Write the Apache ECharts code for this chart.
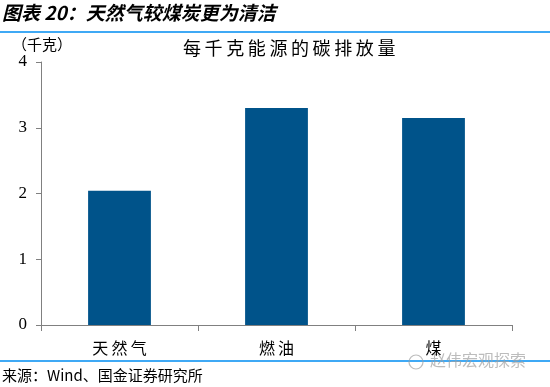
<!DOCTYPE html>
<html><head><meta charset="utf-8">
<script src="https://cdn.jsdelivr.net/npm/echarts@6/dist/echarts.min.js"></script>
<style>html,body{margin:0;padding:0;background:#fff}#c{width:550px;height:387px}</style>
</head><body><div id="c"></div>
<script>
const categories = ['天然气', '燃油', '煤'];
const values = [2.04, 3.30, 3.15];
const yTicks = [0, 1, 2, 3, 4];
const figTitle = '图表 20：天然气较煤炭更为清洁';
const chartTitle = '每千克能源的碳排放量';
const unitLabel = '（千克）';
const sourceText = '来源：Wind、国金证券研究所';
const watermark = '赵伟宏观探索';

const spaced = s => s.split('').join('\u2009');
const chart = echarts.init(document.getElementById('c'));
chart.setOption({
  animation: false,
  backgroundColor: '#fff',
  grid: {left: 41, right: 38, top: 62, bottom: 62},
  xAxis: {
    type: 'category', data: categories,
    axisLine: {lineStyle: {color: '#808080', width: 1}},
    axisTick: {show: true, alignWithLabel: false, length: 6, lineStyle: {color: '#808080'}},
    axisLabel: {color: '#000', fontSize: 16, margin: 15, fontFamily: 'Noto Sans CJK SC',
      formatter: v => spaced(v)}
  },
  yAxis: {
    type: 'value', min: yTicks[0], max: yTicks[yTicks.length-1], interval: 1,
    axisLine: {show: true, lineStyle: {color: '#808080', width: 1}},
    axisTick: {show: true, length: 5, lineStyle: {color: '#808080'}},
    splitLine: {show: false},
    axisLabel: {color: '#000', fontSize: 17, margin: 14, fontFamily: 'Liberation Serif'}
  },
  series: [{
    type: 'bar', data: values, barWidth: '40%',
    itemStyle: {color: '#00538A'}
  }],
  graphic: [
    {type: 'text', left: 2, top: 3, style: {text: figTitle, font: 'italic bold 19px "Noto Sans CJK SC"', fill: '#000'}},
    {type: 'rect', shape: {x: 0, y: 31, width: 550, height: 2}, style: {fill: '#3FA9F5'}},
    {type: 'text', left: 183, top: 39, style: {text: spaced(chartTitle), font: '18px "Noto Sans CJK SC"', fill: '#000'}},
    {type: 'text', left: 12, top: 37, style: {text: unitLabel, font: '15px "Noto Sans CJK SC"', fill: '#000'}},
    {type: 'rect', shape: {x: 0, y: 360, width: 550, height: 2}, style: {fill: '#3FA9F5'}},
    {type: 'text', left: 2, top: 368, style: {text: sourceText, font: '15px "Noto Sans CJK SC"', fill: '#000'}},
    {type: 'text', left: 430, top: 352, style: {text: watermark, font: '16px "Noto Sans CJK SC"', fill: 'rgba(160,160,160,0.7)'}},
    {type: 'circle', shape: {cx: 416, cy: 362, r: 7}, style: {fill: 'none', stroke: 'rgba(160,160,160,0.7)', lineWidth: 1.2}}
  ]
});
</script></body></html>
